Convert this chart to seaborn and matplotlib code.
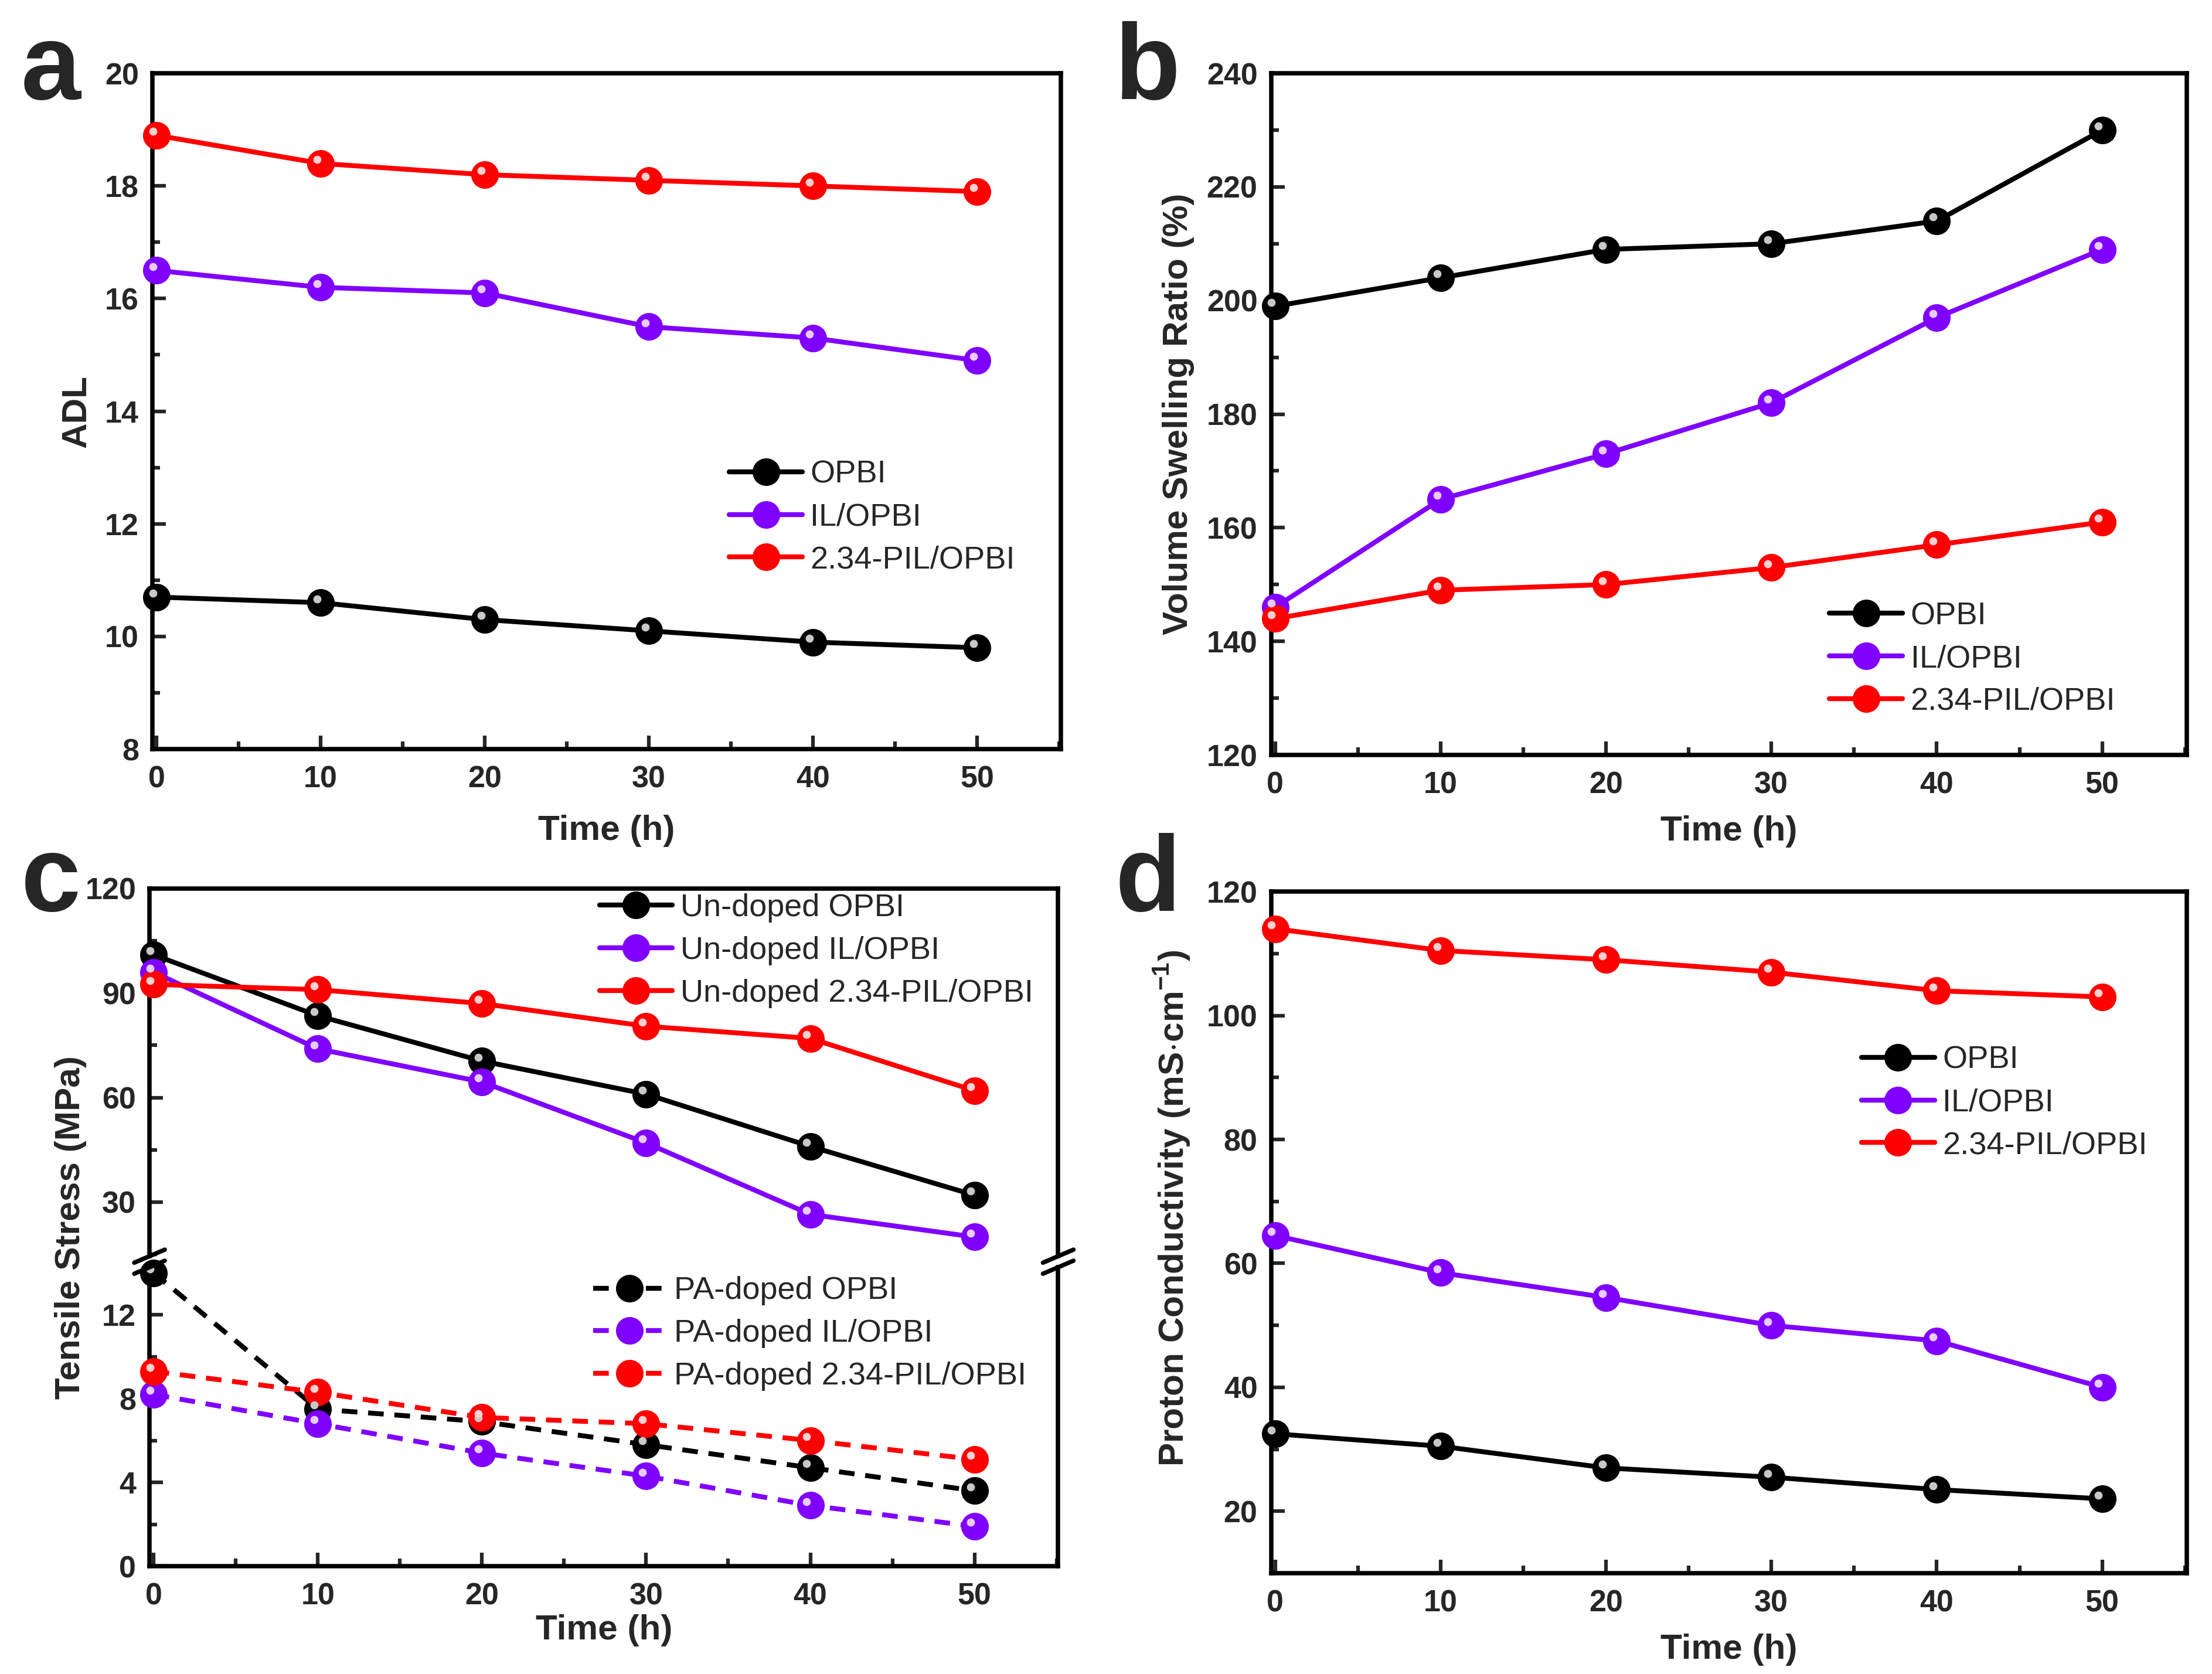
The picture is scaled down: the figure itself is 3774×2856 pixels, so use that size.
import matplotlib.pyplot as plt
import matplotlib.transforms as mtransforms
from matplotlib.lines import Line2D
from matplotlib.ticker import MultipleLocator
import seaborn as sns

# ---------------- style ----------------
sns.set_style("ticks")
plt.rcParams["font.family"] = ["Liberation Sans", "DejaVu Sans"]
plt.rcParams["mathtext.fontset"] = "custom"
plt.rcParams["mathtext.rm"] = "Liberation Sans"
plt.rcParams["mathtext.bf"] = "Liberation Sans:bold"

# ---------------- data ----------------
time_h = [0, 10, 20, 30, 40, 50]
names = ["OPBI", "IL/OPBI", "2.34-PIL/OPBI"]
colors = ["#000000", "#8000FF", "#FF0000"]
lights = ["#c8c8c8", "#e6ccff", "#ffd0d0"]

# (a) ADL
adl_opbi = [10.7, 10.6, 10.3, 10.1, 9.9, 9.8]
adl_il = [16.5, 16.2, 16.1, 15.5, 15.3, 14.9]
adl_pil = [18.9, 18.4, 18.2, 18.1, 18.0, 17.9]

# (b) volume swelling ratio (%)
vsr_opbi = [199, 204, 209, 210, 214, 230]
vsr_il = [146, 165, 173, 182, 197, 209]
vsr_pil = [144, 149, 150, 153, 157, 161]

# (c) tensile stress (MPa)
ts_un_opbi = [101, 83.5, 70.5, 61, 46, 32]
ts_un_il = [96, 74, 64.5, 47, 26.5, 20]
ts_un_pil = [92.5, 91, 87, 80.5, 77, 62]
ts_pa_opbi = [14.0, 7.5, 6.9, 5.8, 4.7, 3.6]
ts_pa_il = [8.2, 6.8, 5.4, 4.3, 2.9, 1.9]
ts_pa_pil = [9.3, 8.3, 7.1, 6.8, 6.0, 5.1]

# (d) proton conductivity (mS/cm)
pc_opbi = [32.5, 30.5, 27, 25.5, 23.5, 22]
pc_il = [64.5, 58.5, 54.5, 50, 47.5, 40]
pc_pil = [114, 110.5, 109, 107, 104, 103]

x_ticks = [0, 10, 20, 30, 40, 50]
a_yticks = [8, 10, 12, 14, 16, 18, 20]
b_yticks = [120, 140, 160, 180, 200, 220, 240]
c_up_yticks = [30, 60, 90, 120]
c_lo_yticks = [0, 4, 8, 12]
d_yticks = [20, 40, 60, 80, 100, 120]

# ---------------- figure ----------------
fig = plt.figure(figsize=(12.58, 9.52), dpi=300)

ax_a = fig.add_axes([0.0689, 0.5525, 0.4107, 0.4037])
ax_b = fig.add_axes([0.5746, 0.5490, 0.4139, 0.4072])
ax_cu = fig.add_axes([0.0676, 0.2496, 0.4108, 0.2196])
ax_cl = fig.add_axes([0.0676, 0.0644, 0.4108, 0.1786])
ax_d = fig.add_axes([0.5746, 0.0602, 0.4139, 0.4072])


def series(ax, y, k, label, ls="-"):
    sns.lineplot(x=time_h, y=y, ax=ax, color=colors[k], marker="o",
                 markersize=10.5, markeredgecolor=colors[k], markeredgewidth=0.8,
                 linewidth=2.0, linestyle=ls, label=label, clip_on=False,
                 zorder=3)
    # little highlight so the balls look shaded
    off = mtransforms.offset_copy(ax.transData, fig=fig, x=-1.5, y=1.6, units="points")
    ax.plot(time_h, y, "o", ms=3.3, color=lights[k], mec="none",
            transform=off, clip_on=False, zorder=4)


def style(ax, yticks, ylim, yminor, xlabel=True, ylabel=None, ypad=5, xpad=9):
    ax.set_xlim(-0.25, 55.1)
    ax.set_ylim(*ylim)
    ax.set_xticks(x_ticks, labels=[str(t) for t in x_ticks], fontsize=12.5,
                  fontweight="bold")
    ax.set_yticks(yticks, labels=[str(t) for t in yticks], fontsize=12.5,
                  fontweight="bold")
    ax.xaxis.set_minor_locator(MultipleLocator(5))
    ax.yaxis.set_minor_locator(MultipleLocator(yminor))
    ax.tick_params(which="both", direction="in", top=False, right=False, width=1.5)
    ax.tick_params(which="major", length=5.5)
    ax.tick_params(which="minor", length=3.2)
    ax.tick_params(axis="x", pad=6.5)
    ax.tick_params(axis="y", pad=5.5)
    for s in ax.spines.values():
        s.set_linewidth(1.8)
        s.set_color("black")
    if xlabel:
        ax.set_xlabel("Time (h)", fontsize=14.5, fontweight="bold", labelpad=xpad)
    else:
        ax.set_xlabel("")
    if ylabel:
        ax.set_ylabel(ylabel, fontsize=14.5, fontweight="bold", labelpad=ypad)
    else:
        ax.set_ylabel("")


def legend(ax, x, y):
    ax.legend(loc="center left", bbox_to_anchor=(x, y), frameon=False,
              fontsize=13, handlelength=2.3, handletextpad=0.25,
              labelspacing=0.42, borderpad=0, borderaxespad=0)


# (a)
for k, y in enumerate([adl_opbi, adl_il, adl_pil]):
    series(ax_a, y, k, names[k])
style(ax_a, a_yticks, (8, 20), 1, ylabel="ADL", ypad=5, xpad=8.5)
legend(ax_a, 0.635, 0.343)

# (b)
for k, y in enumerate([vsr_opbi, vsr_il, vsr_pil]):
    series(ax_b, y, k, names[k])
style(ax_b, b_yticks, (120, 240), 10, ylabel="Volume Swelling Ratio (%)", ypad=5, xpad=6.5)
legend(ax_b, 0.610, 0.141)

# (c) broken axis
for k, y in enumerate([ts_un_opbi, ts_un_il, ts_un_pil]):
    series(ax_cu, y, k, "Un-doped " + names[k])
for k, y in enumerate([ts_pa_opbi, ts_pa_il, ts_pa_pil]):
    series(ax_cl, y, k, "PA-doped " + names[k], ls=(0, (3.2, 2.2)))
style(ax_cu, c_up_yticks, (14.5, 120), 15, xlabel=False)
style(ax_cl, c_lo_yticks, (0, 14.27), 2, xpad=1.5)
ax_cu.spines["bottom"].set_visible(False)
ax_cu.tick_params(axis="x", which="both", bottom=False, labelbottom=False)
ax_cl.spines["top"].set_visible(False)
legend(ax_cu, 0.495, 0.831)
legend(ax_cl, 0.488, 0.778)
fig.text(0.0319, 0.2668, "Tensile Stress (MPa)", rotation=90, ha="center",
         va="center", fontsize=14.5, fontweight="bold")

# break marks "//" on both spines
pu = ax_cu.get_position()
pl = ax_cl.get_position()
dx, dy = 0.0069, 0.0039
for xs in (pu.x0, pu.x1):
    for ys in (pu.y0, pl.y1):
        fig.add_artist(Line2D([xs - dx, xs + dx], [ys - dy, ys + dy],
                              transform=fig.transFigure, color="black",
                              lw=1.8, solid_capstyle="round"))

# (d)
for k, y in enumerate([pc_opbi, pc_il, pc_pil]):
    series(ax_d, y, k, names[k])
style(ax_d, d_yticks, (10, 120), 10,
      ylabel=r"Proton Conductivity (mS$\cdot$cm$^{\mathbf{-1}}$)", ypad=6, xpad=6.5)
ax_d.yaxis.label.set_y(0.535)
legend(ax_d, 0.645, 0.690)

# panel letters
for lbl, x, y in [("a", 0.0095, 0.941), ("b", 0.504, 0.941),
                  ("c", 0.0095, 0.456), ("d", 0.504, 0.456)]:
    fig.text(x, y, lbl, fontsize=44, fontweight="bold", va="baseline", ha="left")

fig.savefig("out.png", dpi=300, facecolor="white")
